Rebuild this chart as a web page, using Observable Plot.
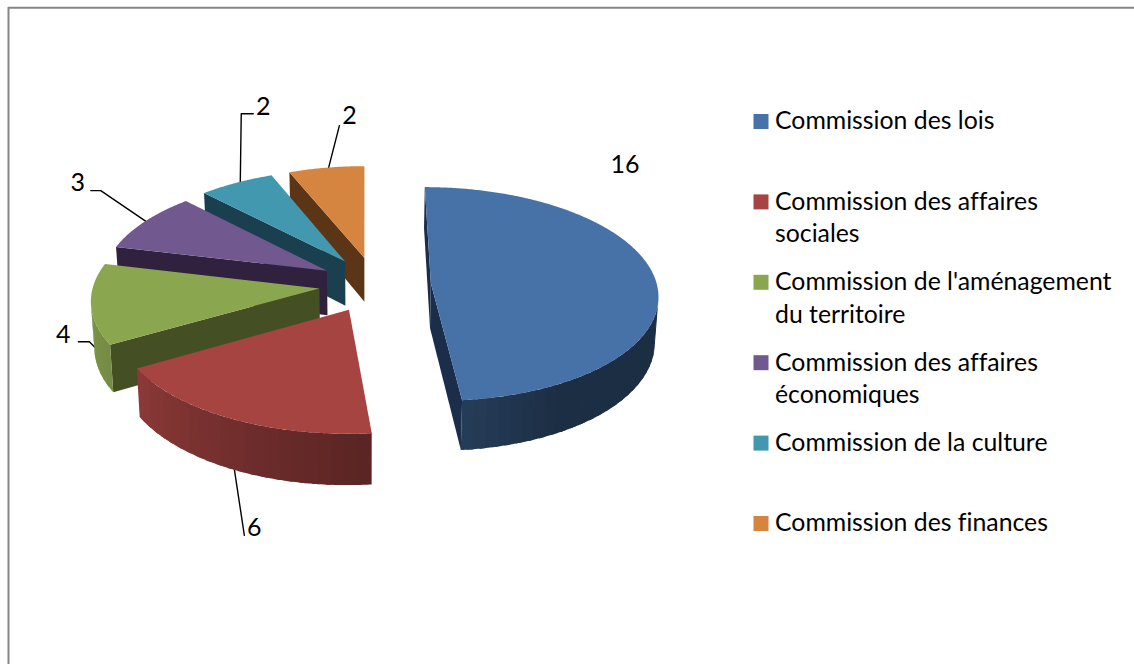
<!DOCTYPE html>
<html>
<head>
<meta charset="utf-8">
<script src="https://cdn.jsdelivr.net/npm/d3@7"></script>
<script src="https://cdn.jsdelivr.net/npm/@observablehq/plot@0.6"></script>
<style>
html,body{margin:0;padding:0;background:#fff;overflow:hidden}
svg{display:block}
svg text{font-variant-ligatures:none}
</style>
</head>
<body>
<div id="chart"></div>
<script>
const categories = ["Commission des lois","Commission des affaires sociales","Commission de l'aménagement du territoire","Commission des affaires économiques","Commission de la culture","Commission des finances"];
const values = [16,6,4,3,2,2];
const colors = ["#4672a7","#a64442","#8aa64f","#71588f","#4198af","#d5853f"];
const faceColors = ["#1a2e4b","#5b2321","#445024","#30213f","#1a3f4e","#5b3515"];
const legendLines = [["Commission des lois"],["Commission des affaires","sociales"],["Commission de l'aménagement","du territoire"],["Commission des affaires","économiques"],["Commission de la culture"],["Commission des finances"]];

// Perspective view of the exploded pie
const view = {xc:374.5, yc:284, xv:364, rx:226, ry:106, ex:56, ey:27.8, k:0.00095, h:45, conv:0.00028};
const project = (u,v,h) => {
  const s = 1/(1-view.k*v);
  const x0 = view.xv+(view.xc-view.xv+u)*s;
  return {x: view.xv+(x0-view.xv)*(1-view.conv*h), y: view.yc+(v+h)*s};
};
const rad = d => d*Math.PI/180;
const shade = d3.scaleLinear().domain([90,150,174,240,270,290]).range([.4,.4,.53,.84,.92,.95]);
const total = d3.sum(values);
const ends = d3.cumsum(values);
const slices = values.map((val,i) => {
  const a0 = (ends[i]-val)/total*360, a1 = ends[i]/total*360, mid=(a0+a1)/2;
  const u0 = view.ex*Math.sin(rad(mid)), v0 = -view.ey*Math.cos(rad(mid));
  const rim = (a,h) => project(u0+view.rx*Math.sin(rad(a)), v0-view.ry*Math.cos(rad(a)), h);
  return {i,a0,a1,mid,u0,v0,rim,apex:h=>project(u0,v0,h)};
});
const area = p => d3.sum(p,(q,i)=>{const r=p[(i+1)%p.length];return q.x*r.y-r.x*q.y;});
const rows = (id,pts,extra) => pts.map(p=>({id,...p,...extra}));

function sideRows(s){
  const out=[], color=faceColors[s.i];
  const f0=[s.apex(0),s.rim(s.a0,0),s.rim(s.a0,view.h),s.apex(view.h)];
  const f1=[s.apex(0),s.rim(s.a1,0),s.rim(s.a1,view.h),s.apex(view.h)];
  if(area(f0)<0) out.push(...rows(`f0${s.i}`,f0,{color}));
  if(area(f1)>0) out.push(...rows(`f1${s.i}`,f1,{color}));
  const base=d3.rgb(colors[s.i]);
  const step=(s.a1-s.a0)/Math.ceil((s.a1-s.a0)/3);
  for(let a=s.a0;a<s.a1-1e-6;a+=step){
    const q=[s.rim(a,0),s.rim(a+step,0),s.rim(a+step,view.h),s.rim(a,view.h)];
    if(area(q)<0){
      const f=shade(a+step/2);
      const c=d3.rgb(base.r*f,base.g*f,base.b*f).formatRgb();
      // each band runs a little under the next one, so no seam shows between them
      const b=Math.min(a+step*1.5,s.a1), wide=[];
      for(let t=a;t<b;t+=.5) wide.push(s.rim(t,0));
      wide.push(s.rim(b,0),s.rim(b,view.h));
      for(let t=b-.5;t>a;t-=.5) wide.push(s.rim(t,view.h));
      wide.push(s.rim(a,view.h));
      out.push(...rows(`r${s.i}_${a}`,wide,{color:c}));
    }
  }
  return out;
}
function topRows(s){
  const pts=[s.apex(0)];
  for(let a=s.a0;a<s.a1;a+=.5) pts.push(s.rim(a,0));
  pts.push(s.rim(s.a1,0));
  return rows(`t${s.i}`,pts,{category:categories[s.i]});
}

// Data labels with their leader lines, placed relative to each slice's rim
const labelPlace = [
  {h:0,  label:[-31,-125], leader:null},
  {h:45, label:[22,59],    leader:[[2,0],[12,66]]},
  {h:45, label:[-31,-15],  leader:[[5,2],[-5,-8],[-16,-8]]},
  {h:0,  label:[-67,-39],  leader:[[3,1],[-44,-31],[-54,-31]]},
  {h:0,  label:[27,-76],   leader:[[4,1],[5,-69],[17,-69]]},
  {h:0,  label:[23,-52],   leader:[[2,1],[13,-42]]}
];
labelPlace[0].label=[-30,-113];
const labelRows=[], leaderRows=[];
slices.forEach(s=>{
  const pl=labelPlace[s.i], o=s.rim(s.mid,pl.h);
  labelRows.push({x:o.x+pl.label[0],y:o.y+pl.label[1],t:String(values[s.i])});
  if(pl.leader) pl.leader.forEach(d=>leaderRows.push({id:s.i,x:o.x+d[0],y:o.y+d[1]}));
});

// Legend
const legend = {x:760.5, tx:774.5, top:121, step:80.4, line:32.5};
const legendSquares = categories.map((c,i)=>({c,y:legend.top+i*legend.step}));
const legendText = legendLines.flatMap((ls,i)=>ls.map((t,j)=>({t,y:legend.top+i*legend.step+j*legend.line})));

const sliceMarks = [...slices].reverse().flatMap(s=>[
  Plot.line(sideRows(s),{x:"x",y:"y",z:"id",curve:"linear-closed",fill:{value:"color",scale:null},stroke:"none"}),
  Plot.line(topRows(s),{x:"x",y:"y",z:"id",curve:"linear-closed",fill:"category",stroke:"none"})
]);

const chart = Plot.plot({
  width:1134,height:664,margin:0,
  x:{domain:[0,1134],range:[0,1134],axis:null},
  y:{domain:[0,664],range:[0,664],axis:null},
  color:{type:"ordinal",domain:categories,range:colors},
  style:{fontFamily:"Lato, Carlito, sans-serif",background:"#fff",color:"#000"},
  marks:[
    Plot.ruleY([7.3],{x1:8,x2:1134,stroke:"#868686",strokeWidth:2}),
    Plot.ruleX([8],{y1:7,y2:664,stroke:"#868686",strokeWidth:2}),
    Plot.line(leaderRows,{x:"x",y:"y",z:"id",stroke:"#000",strokeWidth:1.4}),
    ...sliceMarks,
    Plot.text(labelRows,{x:"x",y:"y",text:"t",fontSize:25,fill:"#000"}),
    Plot.dot(legendSquares,{x:()=>legend.x,y:"y",symbol:"square",r:8.46,fill:"c",stroke:"none"}),
    Plot.text(legendText,{x:()=>legend.tx,y:"y",text:"t",textAnchor:"start",fontSize:24.8,fill:"#000"})
  ]
});
document.getElementById("chart").append(chart);
</script>
</body>
</html>
